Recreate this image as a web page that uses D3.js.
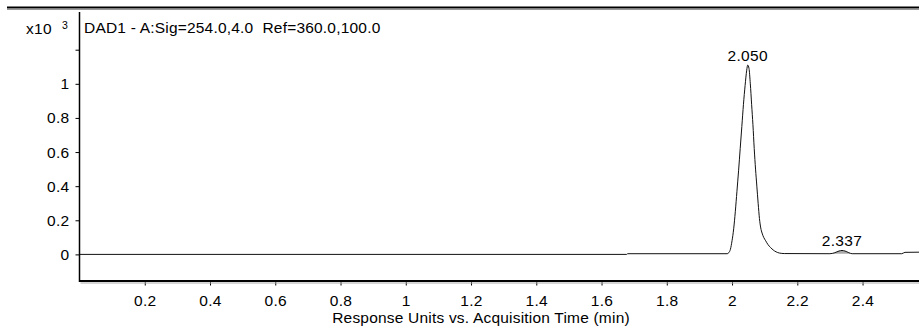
<!DOCTYPE html>
<html><head><meta charset="utf-8">
<script src="https://cdn.jsdelivr.net/npm/d3@7"></script>
<style>
html,body{margin:0;padding:0;background:#fff;}
svg text{font-family:"Liberation Sans",Arial,sans-serif;fill:#000;}
</style></head>
<body><svg id="c" width="919" height="334"></svg>
<script>
// ---- data ----
const times = [0, 1.677, 1.680, 1.985, 1.990, 1.995, 2.000, 2.005, 2.010, 2.015, 2.020, 2.025, 2.030, 2.035, 2.040, 2.045, 2.048, 2.052, 2.056, 2.060, 2.064, 2.068, 2.072, 2.076, 2.080, 2.084, 2.088, 2.092, 2.097, 2.103, 2.110, 2.118, 2.126, 2.135, 2.145, 2.160, 2.300, 2.315, 2.328, 2.337, 2.346, 2.358, 2.368, 2.520, 2.530, 2.573];
const values = [0, 0, 0.004, 0.004, 0.01, 0.03, 0.08, 0.15, 0.25, 0.37, 0.49, 0.62, 0.75, 0.88, 0.99, 1.08, 1.11, 1.09, 1.00, 0.88, 0.76, 0.62, 0.50, 0.40, 0.30, 0.21, 0.155, 0.125, 0.10, 0.08, 0.058, 0.04, 0.026, 0.015, 0.008, 0.005, 0.004, 0.01, 0.02, 0.023, 0.02, 0.01, 0.004, 0.004, 0.012, 0.013];
const xTicks = [0.2, 0.4, 0.6, 0.8, 1, 1.2, 1.4, 1.6, 1.8, 2, 2.2, 2.4];
const yTicks = [0, 0.2, 0.4, 0.6, 0.8, 1, 1.2];
const yTickLabels = ["0", "0.2", "0.4", "0.6", "0.8", "1", ""];
const peakLabels = ["2.050", "2.337"];
const peakTimes = [2.048, 2.337];
const peakValues = [1.11, 0.023];
const title = "DAD1 - A:Sig=254.0,4.0  Ref=360.0,100.0";
const xTitle = "Response Units vs. Acquisition Time (min)";

// ---- drawing ----
const svg = d3.select("#c");
const L = 79.5, R = 919, T = 12, B = 280.5;
const x = d3.scaleLinear().domain([0, 2.573]).range([L, R]);
const y = d3.scaleLinear().domain([-0.153, 1.421]).range([B, T]);

// top rule
svg.append("line").attr("x1", 7).attr("x2", 919).attr("y1", 7.5).attr("y2", 7.5)
  .attr("stroke", "#000").attr("stroke-width", 2);
svg.append("line").attr("x1", 7).attr("x2", 919).attr("y1", 9.5).attr("y2", 9.5)
  .attr("stroke", "#999").attr("stroke-width", 1.2);

const pts = times.map((t, i) => [t, values[i]]);

// small integrated peak fill
const small = pts.filter(d => d[0] >= 2.300 && d[0] <= 2.368);
svg.append("path").datum(small)
  .attr("d", d3.area().x(d => x(d[0])).y0(y(0.004)).y1(d => y(d[1])).curve(d3.curveMonotoneX))
  .attr("fill", "#aaa");

// trace
svg.append("path").datum(pts)
  .attr("d", d3.line().x(d => x(d[0])).y(d => y(d[1])).curve(d3.curveMonotoneX))
  .attr("fill", "none").attr("stroke", "#111").attr("stroke-width", 1);

// x axis
const gx = svg.append("g").attr("transform", `translate(0,${B})`)
  .call(d3.axisBottom(x).tickValues(xTicks).tickSize(5).tickSizeOuter(0).tickPadding(4)
    .tickFormat(d3.format("~g")));
gx.select(".domain").remove();
gx.selectAll(".tick line").attr("stroke", "#000");
gx.selectAll(".tick text").attr("font-size", 15.5).attr("letter-spacing", "0.3px")
  .attr("font-family", "Liberation Sans, Arial, sans-serif").attr("dy", "0.71em").attr("y", 14);
svg.append("line").attr("x1", L - 0.5).attr("x2", R).attr("y1", B + 0.5).attr("y2", B + 0.5)
  .attr("stroke", "#000").attr("stroke-width", 2);
svg.append("line").attr("x1", L + 1).attr("x2", R).attr("y1", B + 2.5).attr("y2", B + 2.5)
  .attr("stroke", "#aaa").attr("stroke-width", 1);

// y axis
const gy = svg.append("g").attr("transform", `translate(${L},0)`)
  .call(d3.axisLeft(y).tickValues(yTicks).tickSize(4).tickSizeOuter(0).tickPadding(6)
    .tickFormat((d, i) => yTickLabels[i]));
gy.select(".domain").remove();
gy.selectAll(".tick line").attr("stroke", "#000");
gy.selectAll(".tick text").attr("font-size", 15.5).attr("letter-spacing", "0.3px")
  .attr("font-family", "Liberation Sans, Arial, sans-serif");
svg.append("line").attr("x1", L).attr("x2", L).attr("y1", T).attr("y2", B + 1.5)
  .attr("stroke", "#000").attr("stroke-width", 1.5);

// exponent label
svg.append("text").attr("x", 26).attr("y", 33.5).attr("font-size", 15.5).attr("letter-spacing", "0.3px").text("x10");
svg.append("text").attr("x", 62).attr("y", 28.5).attr("font-size", 10.5).text("3");

// title
svg.append("text").attr("x", 84).attr("y", 33).attr("font-size", 15.5).attr("letter-spacing", "0.2px")
  .style("white-space", "pre").text(title);

// peak labels
svg.selectAll(".pl").data(peakLabels).enter().append("text")
  .attr("x", (d, i) => x(peakTimes[i])).attr("y", (d, i) => y(peakValues[i]) - 4)
  .attr("text-anchor", "middle").attr("font-size", 15.5).attr("letter-spacing", "0.3px").text(d => d);

// x title
svg.append("text").attr("x", 481).attr("y", 323).attr("text-anchor", "middle")
  .attr("font-size", 15.5).attr("letter-spacing", "0.2px").text(xTitle);
</script></body></html>
